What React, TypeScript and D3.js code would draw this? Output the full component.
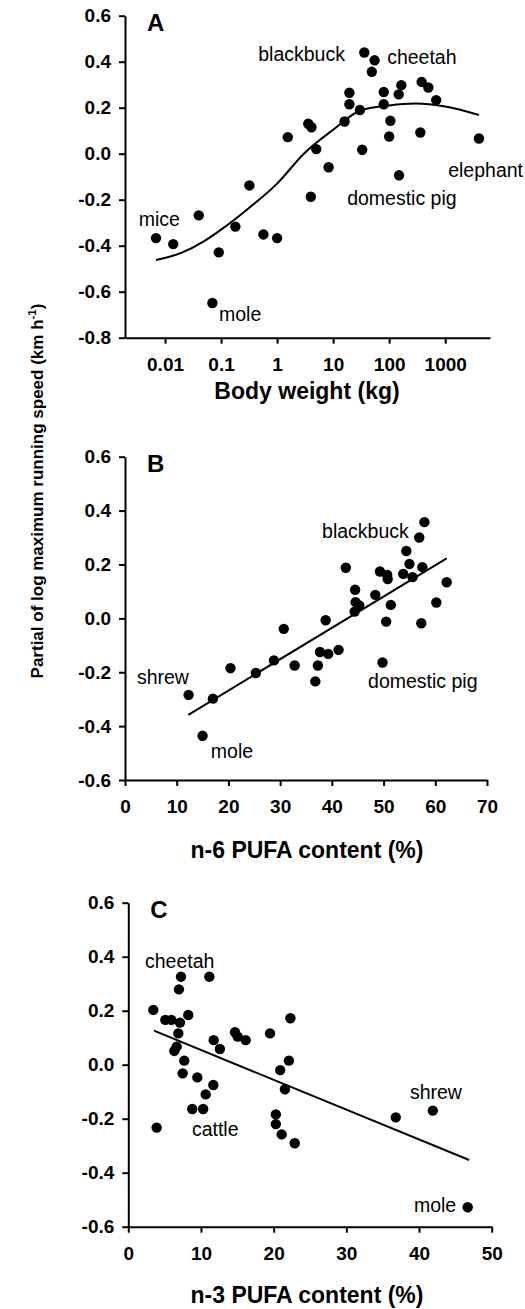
import React, { useEffect, useRef } from 'react';
import * as d3 from 'd3';

// Panel A: body weight (kg) vs partial log max running speed
const massA = [0.0069, 0.014, 0.04, 0.07, 0.091, 0.18, 0.32, 0.57, 1.0, 1.55, 3.6, 4.1, 4.0, 5.0, 8.3, 16, 19.5, 19.5, 30, 33, 36, 49, 55, 80, 80, 100, 105, 148, 165, 150, 360, 380, 500, 690, 4000];
const speedA = [-0.367, -0.393, -0.268, -0.649, -0.429, -0.317, -0.138, -0.351, -0.367, 0.072, 0.13, 0.115, -0.187, 0.02, -0.059, 0.14, 0.265, 0.215, 0.19, 0.017, 0.44, 0.356, 0.406, 0.268, 0.215, 0.075, 0.143, 0.258, 0.298, -0.094, 0.092, 0.312, 0.288, 0.233, 0.066];
const fitMassA = [0.0069, 0.02, 0.05, 0.1, 0.3, 1, 3, 10, 30, 100, 300, 1000, 4000];
const fitSpeedA = [-0.462, -0.43, -0.38, -0.33, -0.24, -0.13, 0.0, 0.104, 0.187, 0.21, 0.218, 0.205, 0.168];
const xTicksA = [0.01, 0.1, 1, 10, 100, 1000];
const xTickLabelsA = ['0.01', '0.1', '1', '10', '100', '1000'];
const yTicksA = [-0.8, -0.6, -0.4, -0.2, 0.0, 0.2, 0.4, 0.6];

// Panel B: n-6 PUFA content (%)
const n6B = [12.3, 15.0, 17.0, 20.4, 25.3, 28.8, 30.7, 32.8, 36.8, 37.3, 37.7, 38.8, 39.3, 41.3, 42.7, 44.5, 44.6, 45.3, 44.4, 48.4, 49.3, 50.7, 50.8, 51.4, 50.5, 49.8, 53.8, 54.4, 55.0, 55.6, 56.9, 57.9, 57.5, 57.3, 60.2, 62.2];
const speedB = [-0.284, -0.436, -0.298, -0.185, -0.203, -0.156, -0.039, -0.175, -0.234, -0.175, -0.125, -0.007, -0.132, -0.117, 0.188, 0.106, 0.06, 0.048, 0.025, 0.087, 0.174, 0.161, 0.146, 0.05, -0.012, -0.164, 0.165, 0.25, 0.202, 0.153, 0.30, 0.357, 0.19, -0.018, 0.059, 0.134];
const fitN6B = [12.25, 62.2];
const fitSpeedB = [-0.358, 0.223];
const xTicksB = [0, 10, 20, 30, 40, 50, 60, 70];

// Panel C: n-3 PUFA content (%)
const n3C = [3.44, 3.9, 5.09, 5.92, 6.33, 6.66, 6.88, 6.97, 7.11, 7.25, 7.48, 7.7, 8.25, 8.8, 9.5, 10.3, 10.65, 11.15, 11.7, 11.75, 12.6, 14.68, 15.05, 16.15, 19.5, 20.3, 20.3, 20.9, 21.1, 21.55, 22.1, 22.3, 22.9, 36.8, 41.9, 46.7];
const speedC = [0.203, -0.233, 0.166, 0.166, 0.051, 0.067, 0.116, 0.279, 0.156, 0.326, -0.032, 0.015, 0.184, -0.164, -0.047, -0.164, -0.11, 0.326, -0.075, 0.091, 0.058, 0.12, 0.104, 0.091, 0.116, -0.184, -0.22, -0.02, -0.258, -0.091, 0.015, 0.172, -0.291, -0.195, -0.17, -0.528];
const fitN3C = [3.53, 46.9];
const fitSpeedC = [0.126, -0.353];
const xTicksC = [0, 10, 20, 30, 40, 50];
const yTicksBC = [-0.6, -0.4, -0.2, 0.0, 0.2, 0.4, 0.6];

// species labels, anchored in data units
const labelsA = [
  { text: 'blackbuck', x: 0.46, y: 0.405 },
  { text: 'cheetah', x: 92, y: 0.39 },
  { text: 'elephant', x: 1130, y: -0.1 },
  { text: 'domestic pig', x: 17.8, y: -0.225 },
  { text: 'mice', x: 0.0034, y: -0.315 },
  { text: 'mole', x: 0.092, y: -0.726 },
];
const labelsB = [
  { text: 'blackbuck', x: 38.1, y: 0.3 },
  { text: 'shrew', x: 2.3, y: -0.244 },
  { text: 'mole', x: 16.6, y: -0.517 },
  { text: 'domestic pig', x: 47, y: -0.257 },
];
const labelsC = [
  { text: 'cheetah', x: 2.3, y: 0.36 },
  { text: 'cattle', x: 8.75, y: -0.263 },
  { text: 'shrew', x: 38.75, y: -0.128 },
  { text: 'mole', x: 39.3, y: -0.546 },
];

const FONT = "'Liberation Sans', Arial, Helvetica, sans-serif";

const drawPanel = (svg, cfg) => {
  const g = svg.append('g');
  const { x, y } = cfg;
  const line = d3.line().x(d => x(d[0])).y(d => y(d[1]));

  const xAxis = d3.axisBottom(x).tickValues(cfg.xTicks).tickSize(6).tickSizeOuter(0).tickFormat(cfg.xFormat);
  const yAxis = d3.axisLeft(y).tickValues(cfg.yTicks).tickSize(6).tickSizeOuter(0).tickPadding(8).tickFormat(d => d.toFixed(1));

  const gx = g.append('g').attr('transform', `translate(0,${y.range()[0]})`).call(xAxis);
  const gy = g.append('g').attr('transform', `translate(${x.range()[0]},0)`).call(yAxis);
  [gx, gy].forEach(a => {
    a.selectAll('path, line').attr('stroke', '#000').attr('stroke-width', 2);
    a.selectAll('text').attr('font-family', FONT).attr('font-size', 19).attr('font-weight', 'bold').attr('fill', '#000');
  });
  gx.selectAll('text').attr('y', 33).attr('dy', 0);

  // fitted line / curve
  g.append('path')
    .datum(cfg.fx.map((v, i) => [v, cfg.fy[i]]))
    .attr('d', cfg.curve ? line.curve(d3.curveMonotoneX) : line)
    .attr('fill', 'none').attr('stroke', '#000').attr('stroke-width', 2);

  g.selectAll('circle.pt')
    .data(cfg.px.map((v, i) => [v, cfg.py[i]]))
    .enter()
    .append('circle')
    .attr('class', 'pt')
    .attr('cx', d => x(d[0]))
    .attr('cy', d => y(d[1]))
    .attr('r', 5.2)
    .attr('fill', '#000');

  g.selectAll('text.lbl')
    .data(cfg.labels)
    .enter()
    .append('text')
    .attr('class', 'lbl')
    .attr('x', d => x(d.x))
    .attr('y', d => y(d.y))
    .attr('font-family', FONT)
    .attr('font-size', 19.5)
    .text(d => d.text);

  g.append('text')
    .attr('x', x.range()[0] + 22)
    .attr('y', y.range()[1] + 15)
    .attr('font-family', FONT)
    .attr('font-size', 24)
    .attr('font-weight', 'bold')
    .text(cfg.letter);

  g.append('text')
    .attr('x', 307)
    .attr('y', y.range()[0] + cfg.titleGap)
    .attr('text-anchor', 'middle')
    .attr('font-family', FONT)
    .attr('font-size', 23)
    .attr('font-weight', 'bold')
    .text(cfg.title);
};

const App = () => {
  const svgRef = useRef();

  useEffect(() => {
    const svg = d3.select(svgRef.current);
    svg.selectAll('*').remove();

    drawPanel(svg, {
      x: d3.scaleLog().domain([0.00193, 6300]).range([125, 490]),
      y: d3.scaleLinear().domain([-0.8, 0.6]).range([337.7, 15.7]),
      xTicks: xTicksA,
      xFormat: (d, i) => xTickLabelsA[i],
      yTicks: yTicksA,
      px: massA, py: speedA,
      fx: fitMassA, fy: fitSpeedA, curve: true,
      labels: labelsA,
      letter: 'A',
      title: 'Body weight (kg)',
      titleGap: 61,
    });

    drawPanel(svg, {
      x: d3.scaleLinear().domain([0, 70]).range([125, 487]),
      y: d3.scaleLinear().domain([-0.6, 0.6]).range([780, 456.7]),
      xTicks: xTicksB,
      xFormat: d => String(d),
      yTicks: yTicksBC,
      px: n6B, py: speedB,
      fx: fitN6B, fy: fitSpeedB, curve: false,
      labels: labelsB,
      letter: 'B',
      title: 'n-6 PUFA content (%)',
      titleGap: 78,
    });

    drawPanel(svg, {
      x: d3.scaleLinear().domain([0, 50]).range([128.3, 491.7]),
      y: d3.scaleLinear().domain([-0.6, 0.6]).range([1226.7, 902.7]),
      xTicks: xTicksC,
      xFormat: d => String(d),
      yTicks: yTicksBC,
      px: n3C, py: speedC,
      fx: fitN3C, fy: fitSpeedC, curve: false,
      labels: labelsC,
      letter: 'C',
      title: 'n-3 PUFA content (%)',
      titleGap: 76,
    });

    // shared y-axis title
    const yt = svg.append('text')
      .attr('transform', 'translate(43,491) rotate(-90)')
      .attr('text-anchor', 'middle')
      .attr('font-family', FONT)
      .attr('font-size', 17)
      .attr('font-weight', 'bold');
    yt.append('tspan').text('Partial of log maximum running speed (km h');
    yt.append('tspan').attr('font-size', 11.5).attr('dy', -7).text('-1');
    yt.append('tspan').attr('dy', 7).text(')');
  }, []);

  return (
    <svg ref={svgRef} width={525} height={1309} style={{ position: 'absolute', left: 0, top: 0, background: '#fff' }} />
  );
};

export default App;
